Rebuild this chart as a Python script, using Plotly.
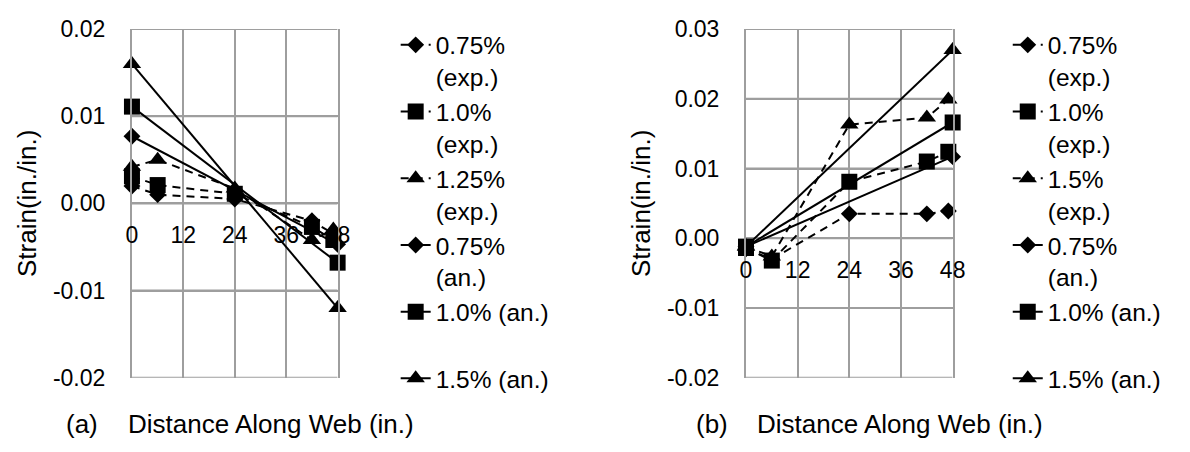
import plotly.graph_objects as go

# Measurement stations along the web (in.) and analytic end points
x_exp = [0, 6, 24, 42, 47]
x_an = [0, 48]

# (a) strains (in./in.)
a_exp_075 = [0.0020, 0.0010, 0.0005, -0.0020, -0.0035]
a_exp_100 = [0.0031, 0.0021, 0.0011, -0.0027, -0.0042]
a_exp_125 = [0.0042, 0.0050, 0.0017, -0.0042, -0.0030]
a_an_075 = [0.0077, -0.0047]
a_an_100 = [0.0111, -0.0068]
a_an_150 = [0.0160, -0.0120]

# (b) strains (in./in.)
b_exp_075 = [-0.0015, -0.0030, 0.0035, 0.0035, 0.0039]
b_exp_100 = [-0.0014, -0.0032, 0.0081, 0.0110, 0.0124]
b_exp_150 = [-0.0012, -0.0026, 0.0163, 0.0173, 0.0199]
b_an_075 = [-0.0012, 0.0117]
b_an_100 = [-0.0012, 0.0166]
b_an_150 = [-0.0012, 0.0270]

names_a = ["0.75%<br>(exp.)", "1.0%<br>(exp.)", "1.25%<br>(exp.)",
           "0.75%<br>(an.)", "1.0% (an.)<br>&nbsp;", "1.5% (an.)<br>&nbsp;"]
names_b = ["0.75%<br>(exp.)", "1.0%<br>(exp.)", "1.5%<br>(exp.)",
           "0.75%<br>(an.)", "1.0% (an.)<br>&nbsp;", "1.5% (an.)<br>&nbsp;"]

x_ticks = [0, 12, 24, 36, 48]
x_tick_text = ["0", "12", "24", "36", "48"]
ya_ticks = [-0.02, -0.01, 0.0, 0.01, 0.02]
ya_tick_text = ["-0.02", "-0.01", "0.00", "0.01", "0.02"]
yb_ticks = [-0.02, -0.01, 0.0, 0.01, 0.02, 0.03]
yb_tick_text = ["-0.02", "-0.01", "0.00", "0.01", "0.02", "0.03"]

FONT = "Liberation Sans, Arial, Helvetica, sans-serif"
GRID = "#9e9e9e"
GW = 2
W, H = 1190, 452

# plot-area domains (paper fractions)
xa_dom = [128 / W, 337 / W]
xb_dom = [752 / W, 962 / W]
y_dom = [1 - 387 / H, 1 - 17 / H]
x_range = [0, 48]
ya_range = [-0.02, 0.02]
yb_range = [-0.02, 0.03]


def zero_pos(rng):
    frac = (0 - rng[0]) / (rng[1] - rng[0])
    return y_dom[0] + frac * (y_dom[1] - y_dom[0])


symbols = ["diamond", "square", "triangle-up"]
sizes = [13, 16, 16]

fig = go.Figure()


def add_hgrid(xref, yref, yticks):
    # horizontal grid lines across the full x range at every strain tick
    gx, gy = [], []
    for t in yticks:
        gx += [x_range[0], x_range[1], None]
        gy += [t, t, None]
    fig.add_trace(go.Scatter(
        x=gx, y=gy, xaxis=xref, yaxis=yref, mode="lines",
        line=dict(color=GRID, width=GW), showlegend=False,
        hoverinfo="skip", cliponaxis=False,
    ))


def add_panel(xref, yref, legend, names, exp_series, an_series):
    for i, ys in enumerate(exp_series):
        fig.add_trace(go.Scatter(
            x=x_exp, y=ys, name=names[i], xaxis=xref, yaxis=yref,
            legend=legend, mode="lines+markers", cliponaxis=False,
            line=dict(color="black", width=2, dash="8px,6px"),
            marker=dict(symbol=symbols[i], size=sizes[i], color="black"),
        ))
    for i, ys in enumerate(an_series):
        fig.add_trace(go.Scatter(
            x=x_an, y=ys, name=names[3 + i], xaxis=xref, yaxis=yref,
            legend=legend, mode="lines+markers", cliponaxis=False,
            line=dict(color="black", width=2),
            marker=dict(symbol=symbols[i], size=sizes[i], color="black"),
        ))


add_hgrid("x", "y", ya_ticks)
add_hgrid("x2", "y2", yb_ticks)
add_panel("x", "y", "legend", names_a,
          [a_exp_075, a_exp_100, a_exp_125], [a_an_075, a_an_100, a_an_150])
add_panel("x2", "y2", "legend2", names_b,
          [b_exp_075, b_exp_100, b_exp_150], [b_an_075, b_an_100, b_an_150])

tick_font = dict(family=FONT, size=23, color="black")
# x axes sit on the zero-strain line, labels just below it
xcommon = dict(range=x_range, tickvals=x_ticks, ticktext=x_tick_text,
               showgrid=True, gridcolor=GRID, gridwidth=GW, zeroline=False,
               showline=False, ticks="", tickfont=tick_font,
               ticklabelstandoff=16, anchor="free")
# y labels pushed left with invisible outside ticks
ycommon = dict(showgrid=True, gridcolor=GRID, gridwidth=GW, zeroline=False,
               showline=True, mirror=True, linecolor=GRID, linewidth=GW,
               ticks="outside", ticklen=20, tickcolor="rgba(0,0,0,0)",
               tickfont=tick_font, domain=y_dom)

legend_common = dict(font=dict(family=FONT, size=24.5, color="black"),
                     valign="top", bgcolor="rgba(0,0,0,0)", borderwidth=0,
                     xanchor="left", yanchor="top", tracegroupgap=0,
                     itemwidth=30, itemclick=False)

fig.update_layout(
    width=W, height=H, margin=dict(l=0, r=0, t=0, b=0),
    paper_bgcolor="white", plot_bgcolor="white",
    font=dict(family=FONT, color="black"),
    xaxis=dict(domain=xa_dom, position=zero_pos(ya_range), **xcommon),
    yaxis=dict(range=ya_range, tickvals=ya_ticks, ticktext=ya_tick_text,
               anchor="x", **ycommon),
    xaxis2=dict(domain=xb_dom, position=zero_pos(yb_range), **xcommon),
    yaxis2=dict(range=yb_range, tickvals=yb_ticks, ticktext=yb_tick_text,
                anchor="x2", **ycommon),
    legend=dict(x=396 / W, y=1 - 10 / H, **legend_common),
    legend2=dict(x=1018 / W, y=1 - 10 / H, **legend_common),
    showlegend=True,
)

title_font = dict(family=FONT, size=26, color="black")
annotations = [
    dict(text="Strain(in./in.)", x=22 / W, y=1 - 202 / H, textangle=-90),
    dict(text="Strain(in./in.)", x=646 / W, y=1 - 202 / H, textangle=-90),
    dict(text="(a)", x=77 / W, y=1 - 436 / H),
    dict(text="Distance Along Web (in.)", x=269 / W, y=1 - 436 / H),
    dict(text="(b)", x=717 / W, y=1 - 436 / H),
    dict(text="Distance Along Web (in.)", x=909 / W, y=1 - 436 / H),
]
for a in annotations:
    fig.add_annotation(xref="paper", yref="paper", showarrow=False,
                       xanchor="center", yanchor="middle", font=title_font, **a)

fig.write_html("out.html")
